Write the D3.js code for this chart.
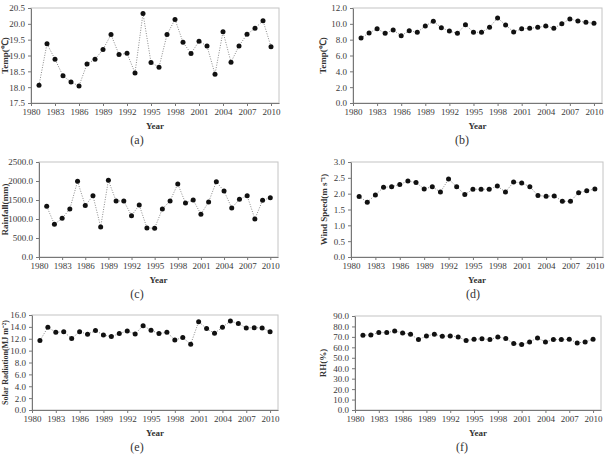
<!DOCTYPE html>
<html>
<head>
<meta charset="utf-8">
<script src="https://cdn.jsdelivr.net/npm/d3@7"></script>
<style>
  body { margin: 0; background: #fff; }
  svg { display: block; font-family: "Liberation Serif", "Times New Roman", serif; }
</style>
</head>
<body>
<svg id="chart" width="605" height="456"></svg>
<script>
var years = [1981, 1982, 1983, 1984, 1985, 1986, 1987, 1988, 1989, 1990,
             1991, 1992, 1993, 1994, 1995, 1996, 1997, 1998, 1999, 2000,
             2001, 2002, 2003, 2004, 2005, 2006, 2007, 2008, 2009, 2010];
var xTicks = [1980, 1983, 1986, 1989, 1992, 1995, 1998, 2001, 2004, 2007, 2010];

// (a) temperature, site 1
var tempA = [18.06, 19.37, 18.88, 18.36, 18.16, 18.04, 18.73, 18.88, 19.19, 19.66,
             19.03, 19.07, 18.45, 20.33, 18.78, 18.63, 19.66, 20.14, 19.42, 19.06,
             19.45, 19.30, 18.41, 19.75, 18.79, 19.30, 19.67, 19.86, 20.10, 19.28];
// (b) temperature, site 2
var tempB = [8.21, 8.84, 9.39, 8.80, 9.22, 8.50, 9.14, 8.93, 9.73, 10.32,
             9.52, 9.09, 8.80, 9.89, 8.93, 8.93, 9.56, 10.74, 9.85, 8.97,
             9.39, 9.43, 9.56, 9.73, 9.43, 10.02, 10.61, 10.36, 10.19, 10.06];
// (c) rainfall
var rainfall = [1334, 861, 1017, 1265, 1991, 1352, 1613, 791, 2017, 1474,
                1474, 1087, 1369, 765, 757, 1265, 1474, 1923, 1422, 1500,
                1125, 1448, 1979, 1735, 1291, 1517, 1613, 1000, 1491, 1561];
// (d) wind speed
var windSpeed = [1.91, 1.73, 1.96, 2.20, 2.22, 2.29, 2.40, 2.35, 2.15, 2.22,
                 2.05, 2.46, 2.22, 1.97, 2.14, 2.14, 2.14, 2.24, 2.05, 2.37,
                 2.34, 2.22, 1.94, 1.92, 1.93, 1.76, 1.76, 2.03, 2.09, 2.15];
// (e) solar radiation
var solarRad = [11.69, 13.93, 13.09, 13.20, 12.03, 13.20, 12.76, 13.37, 12.64, 12.36,
                12.87, 13.31, 12.81, 14.21, 13.43, 12.87, 13.09, 11.80, 12.20, 11.08,
                14.88, 13.71, 12.92, 13.93, 14.99, 14.55, 13.82, 13.87, 13.82, 13.20];
// (f) relative humidity
var rh = [71.6, 71.9, 74.1, 74.1, 75.7, 73.8, 72.5, 67.4, 70.9, 72.5,
          70.6, 70.9, 70.0, 66.5, 67.7, 68.1, 67.4, 70.0, 68.4, 63.6,
          62.6, 65.2, 69.0, 65.2, 67.4, 67.4, 67.7, 64.2, 65.2, 67.7];

var yTicksA = [17.5, 18.0, 18.5, 19.0, 19.5, 20.0, 20.5];
var yTicksB = [0, 2, 4, 6, 8, 10, 12];
var yTicksC = [0, 500, 1000, 1500, 2000, 2500];
var yTicksD = [0, 0.5, 1.0, 1.5, 2.0, 2.5, 3.0];
var yTicksE = [0, 2, 4, 6, 8, 10, 12, 14, 16];
var yTicksF = [0, 10, 20, 30, 40, 50, 60, 70, 80, 90];

var panels = [
  { values: tempA, ticks: yTicksA, label: "Temp(\u2103)", tag: "(a)",
    box: [31, 8, 279, 103], labelX: 8, labelSize: 9, tagX: 137 },
  { values: tempB, ticks: yTicksB, label: "Temp(\u2103)", tag: "(b)",
    box: [353, 8, 602, 103], labelX: 326, labelSize: 9, tagX: 462 },
  { values: rainfall, ticks: yTicksC, label: "Rainfall(mm)", tag: "(c)",
    box: [39, 162, 278, 257], labelX: 8, labelSize: 9, tagX: 137 },
  { values: windSpeed, ticks: yTicksD, label: "Wind Speed(m s\u207B\u00B9)", tag: "(d)",
    box: [351, 162, 603, 257], labelX: 327, labelSize: 9, tagX: 473 },
  { values: solarRad, ticks: yTicksE, label: "Solar Radiation(MJ m\u207B\u00B2)", tag: "(e)",
    box: [32, 315, 278, 410], labelX: 8, labelSize: 8, tagX: 137 },
  { values: rh, ticks: yTicksF, label: "RH(%)", tag: "(f)",
    box: [355, 316, 601, 410], labelX: 326, labelSize: 9, tagX: 462 }
];

var svg = d3.select("#chart");

panels.forEach(function(p) {
  var x0 = p.box[0], y0 = p.box[1], x1 = p.box[2], y1 = p.box[3];
  var x = d3.scaleLinear().domain([1980, 2011]).range([x0, x1]);
  var y = d3.scaleLinear().domain(d3.extent(p.ticks)).range([y1, y0]);
  var g = svg.append("g");

  // plot frame
  g.append("rect")
    .attr("x", x0).attr("y", y0)
    .attr("width", x1 - x0).attr("height", y1 - y0)
    .attr("fill", "none").attr("stroke", "#c4c4c4").attr("stroke-width", 1);

  var xAxis = g.append("g")
    .attr("transform", "translate(0," + y1 + ")")
    .call(d3.axisBottom(x).tickValues(xTicks).tickFormat(d3.format("d"))
      .tickSize(3).tickPadding(3).tickSizeOuter(0));
  var yAxis = g.append("g")
    .attr("transform", "translate(" + x0 + ",0)")
    .call(d3.axisLeft(y).tickValues(p.ticks).tickFormat(d3.format(".1f"))
      .tickSize(3).tickPadding(3).tickSizeOuter(0));

  [xAxis, yAxis].forEach(function(ax) {
    ax.select(".domain").attr("stroke", "#777");
    ax.selectAll(".tick line").attr("stroke", "#777");
    ax.selectAll("text")
      .style("font-size", "9px")
      .style("font-family", "'Liberation Serif', serif")
      .attr("fill", "#3a3a3a");
  });

  var line = d3.line()
    .x(function(d, i) { return x(years[i]); })
    .y(function(d) { return y(d); });

  g.append("path")
    .datum(p.values)
    .attr("d", line)
    .attr("fill", "none")
    .attr("stroke", "#8a8a8a")
    .attr("stroke-width", 1)
    .attr("stroke-dasharray", "1,1.5");

  g.selectAll("circle")
    .data(p.values)
    .enter().append("circle")
    .attr("cx", function(d, i) { return x(years[i]); })
    .attr("cy", function(d) { return y(d); })
    .attr("r", 2.5)
    .attr("fill", "#111");

  // x axis title
  g.append("text")
    .attr("x", (x0 + x1) / 2)
    .attr("y", y1 + 26)
    .attr("text-anchor", "middle")
    .style("font-size", "9px")
    .style("font-weight", "bold")
    .attr("fill", "#333")
    .text("Year");

  // y axis title
  g.append("text")
    .attr("transform", "translate(" + p.labelX + "," + ((y0 + y1) / 2) + ") rotate(-90)")
    .attr("text-anchor", "middle")
    .style("font-size", p.labelSize + "px")
    .style("font-weight", "bold")
    .attr("fill", "#333")
    .text(p.label);

  // panel tag
  g.append("text")
    .attr("x", p.tagX)
    .attr("y", y1 + 41)
    .attr("text-anchor", "middle")
    .style("font-size", "12px")
    .attr("fill", "#333")
    .text(p.tag);
});
</script>
</body>
</html>
